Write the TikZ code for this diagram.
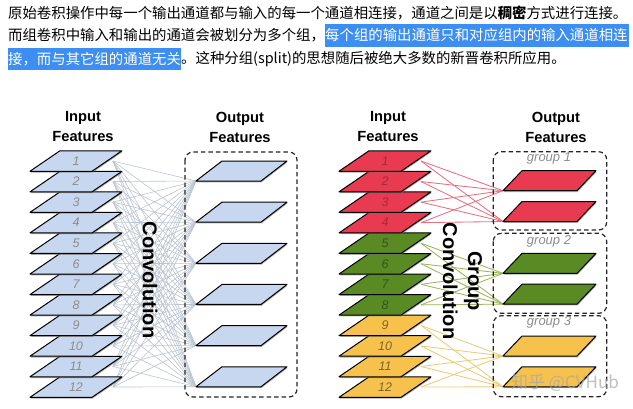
\documentclass[tikz,border=0pt]{standalone}
\usepackage{fontspec}
\setmainfont{Liberation Sans}
\newfontfamily\cjk{Noto Sans CJK SC}
\usetikzlibrary{calc}
\definecolor{blueF}{HTML}{C8D7F0}
\definecolor{redF}{HTML}{E83A50}
\definecolor{greenF}{HTML}{5A8A24}
\definecolor{yellowF}{HTML}{F6C24C}
\definecolor{lineL}{HTML}{BCC5D2}
\definecolor{lineR}{HTML}{E8707E}
\definecolor{lineG}{HTML}{9BB55A}
\definecolor{lineY}{HTML}{EDCB78}
\definecolor{hlblue}{HTML}{3C8EF3}
\definecolor{labGray}{HTML}{8C8C8C}
\definecolor{labRed}{HTML}{A8283A}
\definecolor{labGreen}{HTML}{33551A}
\definecolor{labYellow}{HTML}{7A6530}
\newcommand\pgram[6]{%
  \fill[black!55,opacity=0.6] (#1+0.5,#2+1.3) -- ++(#3,0) -- ++(#4,-#5) -- ++(-#3,0) -- cycle;
  \draw[pgline,fill=#6] (#1,#2) -- ++(#3,0) -- ++(#4,-#5) -- ++(-#3,0) -- cycle;
}
\begin{document}
\begin{tikzpicture}[x=1pt,y=-1pt,
  pgline/.style={draw=black,line width=1pt,line join=round},
  dashbox/.style={draw=black!85,line width=1.2pt,dash pattern=on 4.5pt off 3pt,rounded corners=8pt},
  cjktext/.style={anchor=west,inner sep=0pt,font=\cjk\fontsize{14.4}{16}\selectfont},
  title/.style={align=center,inner sep=0pt,font=\fontsize{14.7}{20}\selectfont\bfseries},
  convtext/.style={align=center,inner sep=0pt,rotate=-90,font=\fontsize{20}{25}\selectfont\bfseries},
  numlab/.style={inner sep=0pt,font=\fontsize{12.5}{14}\selectfont\itshape},
  grouplab/.style={inner sep=0pt,text=labGray,font=\fontsize{13}{14}\selectfont\itshape},
  conn/.style={line width=0.6pt},
  connR/.style={line width=0.85pt}]
\useasboundingbox (0,0) rectangle (633,408);
\fill[white] (0,0) rectangle (633,408);

% ---- Chinese text ----
\fill[hlblue] (325,24) rectangle (629,46.5);
\fill[hlblue] (8,47.5) rectangle (181,70);
\node[cjktext] (t1) at (8,13) {原始卷积操作中每一个输出通道都与输入的每一个通道相连接，通道之间是以{\bfseries 稠密}方式进行连接。};
\node[cjktext] (t2a) at (8,35.5) {而组卷积中输入和输出的通道会被划分为多个组，};
\node[cjktext,text=white] (t2b) at (325,35.5) {每个组的输出通道只和对应组内的输入通道相连};
\node[cjktext,text=white] (t3a) at (8,59.5) {接，而与其它组的通道无关};
\node[cjktext] (t3b) at (181,59.5) {。这种分组(split)的思想随后被绝大多数的新晋卷积所应用。};

% ---- titles ----
\node[title] (inL) at (83,127) {Input\\Features};
\node[title] (outL) at (240,127) {Output\\Features};
\node[title] (inR) at (388,127) {Input\\Features};
\node[title] (outR) at (556,127) {Output\\Features};

% ---- coordinates ----
\foreach \i in {1,...,12}{
  \pgfmathsetmacro\yc{161+20.55*(\i-1)}
  \coordinate (Li\i) at (113,\yc);
  \coordinate (Ri\i) at (421,\yc);
}
\foreach \j in {1,...,6}{
  \pgfmathsetmacro\yb{181+41.15*(\j-1)}
  \coordinate (Lo\j) at (196,\yb);
}
\foreach \g in {1,2,3}{
  \foreach \k in {1,2}{
    \pgfmathsetmacro\yb{190.7+82.65*(\g-1)+30.8*(\k-1)}
    \coordinate (Ro\g-\k) at (503,\yb);
  }
}

% ---- left connections ----
\foreach \i in {1,...,12}{
  \foreach \j in {1,...,6}{
    \draw[conn,lineL] (Li\i) -- (Lo\j);
  }
}
% ---- right connections ----
\foreach \g/\c in {1/lineR,2/lineG,3/lineY}{
  \foreach \m in {1,2,3,4}{
    \pgfmathtruncatemacro\i{4*(\g-1)+\m}
    \draw[connR,\c] (Ri\i) -- (Ro\g-1);
    \draw[connR,\c] (Ri\i) -- (Ro\g-2);
  }
}

% ---- boxes ----
\draw[dashbox] (185,152) rectangle (297,397);
\draw[dashbox] (493.3,151.7) rectangle (606.7,230);
\draw[dashbox] (493.3,233.3) rectangle (606.7,313.3);
\draw[dashbox] (493.3,315.7) rectangle (606.7,396.7);
\node[grouplab] (g1) at (549,158) {group 1};
\node[grouplab] (g2) at (549,241.7) {group 2};
\node[grouplab] (g3) at (549,322.3) {group 3};

% ---- input feature maps ----
\foreach \i in {12,11,...,1}{
  \pgfmathsetmacro\yc{161+20.55*(\i-1)}
  \pgfmathsetmacro\yb{\yc+10.25}
  \pgram{30}{\yb}{62}{30}{20.5}{blueF}
  \node[numlab,text=labGray] (ln\i) at (76,\yc) {\i};
}
\foreach \i in {12,11,...,1}{
  \pgfmathsetmacro\yc{161+20.55*(\i-1)}
  \pgfmathsetmacro\yb{\yc+10.25}
  \ifnum\i<5
    \pgram{339}{\yb}{62}{30}{20.5}{redF}
    \node[numlab,text=labRed] (rn\i) at (385,\yc) {\i};
  \else\ifnum\i<9
    \pgram{339}{\yb}{62}{30}{20.5}{greenF}
    \node[numlab,text=labGreen] (rn\i) at (385,\yc) {\i};
  \else
    \pgram{339}{\yb}{62}{30}{20.5}{yellowF}
    \node[numlab,text=labYellow] (rn\i) at (385,\yc) {\i};
  \fi\fi
}

% ---- output feature maps ----
\foreach \j in {1,...,6}{
  \pgfmathsetmacro\yb{181+41.15*(\j-1)}
  \pgram{196}{\yb}{65}{26}{20}{blueF}
}
\foreach \g/\f in {1/redF,2/greenF,3/yellowF}{
  \foreach \k in {1,2}{
    \pgfmathsetmacro\yb{190.7+82.65*(\g-1)+30.8*(\k-1)}
    \pgram{503}{\yb}{74}{19}{20}{\f}
  }
}

% ---- rotated labels ----
\node[convtext] (convL) at (150,280) {Convolution};
\node[convtext] (convR) at (462.5,281) {Group\\Convolution};

% ---- watermark ----
\node[inner sep=0pt,text=black!35,opacity=0.7,font=\cjk\fontsize{17}{18}\selectfont] (wm) at (565,383) {知乎 @CVHub};
\end{tikzpicture}
\end{document}
